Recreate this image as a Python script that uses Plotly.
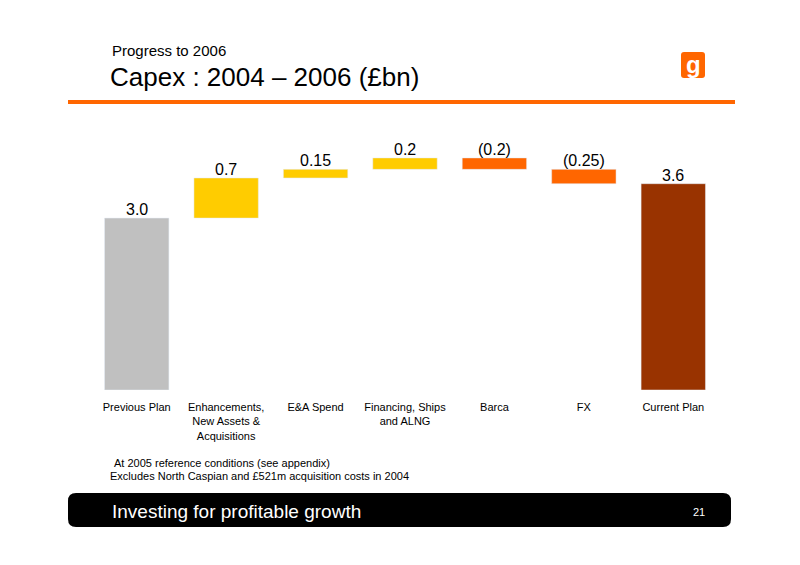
import plotly.graph_objects as go

categories = ["Previous Plan", "Enhancements,<br>New Assets &<br>Acquisitions", "E&A Spend",
              "Financing, Ships<br>and ALNG", "Barca", "FX", "Current Plan"]
values = [3.0, 0.7, 0.15, 0.2, -0.2, -0.25, 3.6]
labels = ["3.0", "0.7", "0.15", "0.2", "(0.2)", "(0.25)", "3.6"]
colors = ["#C0C0C0", "#FFCC00", "#FFCC00", "#FFCC00", "#FF6600", "#FF6600", "#993300"]

W, H = 800, 565
OFF = 8
ML, MR, MT, MB = 92 - OFF, 82 + OFF, 130 - OFF, 175 + OFF
PW, PH = W - ML - MR, H - MT - MB
def px(x): return (x - OFF - ML) / PW
def py(y): return (H - MB - (y - OFF)) / PH

xs = list(range(len(categories)))
bases, heights = [], []
run = 0.0
for i, v in enumerate(values):
    if i == 0 or i == len(values) - 1:
        bases.append(0); heights.append(v)
        if i == 0: run = v
    else:
        if v >= 0:
            bases.append(run); heights.append(v)
        else:
            bases.append(run + v); heights.append(-v)
        run += v

fig = go.Figure(go.Bar(x=xs, y=heights, base=bases, marker_color=colors, width=0.72,
                       hoverinfo="skip"))

font = "Liberation Sans, Arial, sans-serif"
def txt(x, y, t, size, color="black", anchor="left"):
    return dict(x=px(x), y=py(y), xref="paper", yref="paper", text=t, showarrow=False,
                xanchor=anchor, yanchor="middle", font=dict(size=size, family=font, color=color))

ann = []
for i in xs:
    ann.append(dict(x=i, y=bases[i] + heights[i], text=labels[i], showarrow=False,
                    yanchor="bottom", yshift=-2, font=dict(size=16, color="black", family=font)))
ann += [
    txt(110, 50, "Progress to 2006", 15),
    txt(108, 77, "Capex : 2004 – 2006 (£bn)", 26),
    txt(112, 463, "At 2005 reference conditions (see appendix)", 11),
    txt(108, 476, "Excludes North Caspian and £521m acquisition costs in 2004", 11),
    txt(110, 511, "Investing for profitable growth", 19, "white"),
    txt(699, 512, "21", 11, "white", "center"),
    txt(693, 64, "<b>g</b>", 24, "white", "center"),
]

def rr(x0, y0, x1, y1, r):
    X0, X1 = px(x0), px(x1); Y0, Y1 = py(y1), py(y0)
    rx, ry = r / PW, r / PH
    return (f"M {X0+rx},{Y0} L {X1-rx},{Y0} Q {X1},{Y0} {X1},{Y0+ry} L {X1},{Y1-ry} "
            f"Q {X1},{Y1} {X1-rx},{Y1} L {X0+rx},{Y1} Q {X0},{Y1} {X0},{Y1-ry} "
            f"L {X0},{Y0+ry} Q {X0},{Y0} {X0+rx},{Y0} Z")

shapes = [
    dict(type="line", xref="paper", yref="paper", x0=px(68), x1=px(735), y0=py(102), y1=py(102),
         line=dict(color="#FF6600", width=4)),
    dict(type="path", xref="paper", yref="paper", path=rr(68, 493, 731, 527, 8),
         fillcolor="black", line=dict(width=0)),
    dict(type="path", xref="paper", yref="paper", path=rr(681, 52, 705, 78, 3),
         fillcolor="#FF6600", line=dict(width=0)),
]

fig.update_layout(
    width=W, height=H, margin=dict(l=ML, r=MR, t=MT, b=MB),
    plot_bgcolor="white", paper_bgcolor="white", showlegend=False,
    xaxis=dict(tickvals=xs, ticktext=categories, range=[-0.5, 6.5], showgrid=False, zeroline=False,
               showline=False, ticks="", ticklabelstandoff=9,
               tickfont=dict(size=11, family=font, color="black")),
    yaxis=dict(range=[0, 4.537], visible=False),
    annotations=ann, shapes=shapes,
)
fig.write_html("out.html")
